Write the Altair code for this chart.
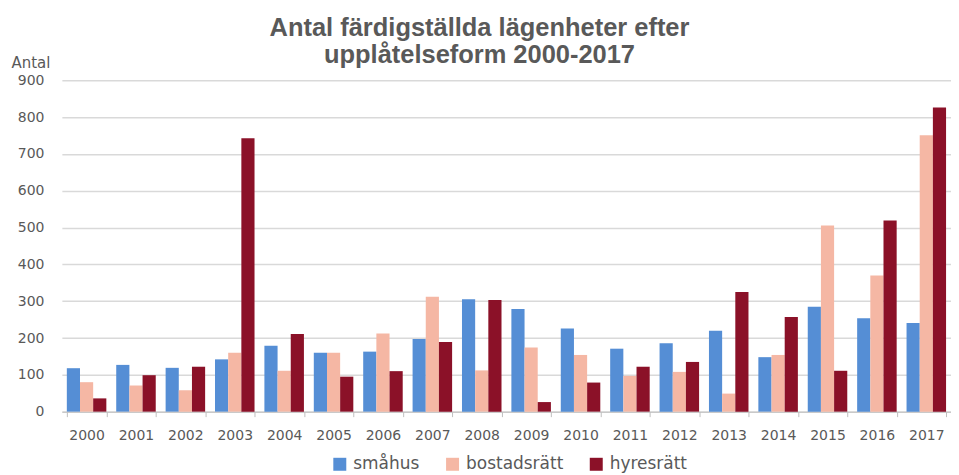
import altair as alt
import pandas as pd

years = ["2000", "2001", "2002", "2003", "2004", "2005", "2006", "2007", "2008",
         "2009", "2010", "2011", "2012", "2013", "2014", "2015", "2016", "2017"]
smahus = [118, 127, 119, 142, 179, 160, 163, 197, 305, 279, 226, 171, 186, 220, 148, 285, 254, 241]
bostadsratt = [80, 71, 58, 160, 111, 160, 212, 312, 112, 174, 154, 97, 108, 49, 154, 506, 370, 751]
hyresratt = [36, 99, 122, 743, 211, 95, 110, 189, 303, 26, 79, 122, 135, 325, 257, 111, 519, 826]

series_names = ["småhus", "bostadsrätt", "hyresrätt"]
series_colors = ["#558ED5", "#F5B7A4", "#8B1128"]
y_ticks = [0, 100, 200, 300, 400, 500, 600, 700, 800, 900]

rows = []
for name, vals in zip(series_names, [smahus, bostadsratt, hyresratt]):
    for yr, v in zip(years, vals):
        rows.append({"År": yr, "Serie": name, "Antal": v})
df = pd.DataFrame(rows)

text_color = "#595959"

chart = alt.Chart(df).mark_bar().encode(
    x=alt.X("År:N", sort=years,
            scale=alt.Scale(paddingInner=0.2, paddingOuter=0.1),
            axis=alt.Axis(title=None, labelAngle=0, labelFont="DejaVu Sans", labelFontSize=14,
                          labelColor=text_color, labelPadding=12, domainColor="#BFBFBF",
                          tickColor="#BFBFBF", tickSize=5, tickBand="extent", grid=False)),
    xOffset=alt.XOffset("Serie:N", sort=series_names, scale=alt.Scale(paddingInner=0, paddingOuter=0)),
    y=alt.Y("Antal:Q", scale=alt.Scale(domain=[0, 900], nice=False),
            axis=alt.Axis(values=y_ticks, title="Antal", titleAngle=0, titleAlign="left",
                          titleBaseline="alphabetic", titleX=-51, titleY=-13,
                          titleFont="DejaVu Sans", titleFontSize=15, titleFontWeight="normal",
                          titleColor=text_color, labelFont="DejaVu Sans", labelFontSize=14,
                          labelColor=text_color, labelPadding=18, domain=False, ticks=False,
                          gridColor="#D9D9D9", gridWidth=1.5)),
    color=alt.Color("Serie:N", sort=series_names,
                    scale=alt.Scale(domain=series_names, range=series_colors),
                    legend=alt.Legend(title=None, orient="none", direction="horizontal",
                                      legendX=270, legendY=376,
                                      symbolType="square", symbolSize=169, symbolStrokeWidth=0,
                                      labelFont="DejaVu Sans", labelFontSize=17, labelColor=text_color,
                                      columnPadding=24, labelOffset=5)),
).properties(
    width=891,
    height=332,
    title=alt.TitleParams(
        text=["Antal färdigställda lägenheter efter", "upplåtelseform 2000-2017"],
        font="Liberation Sans", fontSize=25.5, fontWeight="bold", color=text_color,
        anchor="middle", dx=-27, dy=13, offset=0, lineHeight=27,
    ),
    autosize=alt.AutoSizeParams(type="none"),
    padding={"left": 54, "top": 72, "right": 0, "bottom": 63},
).configure_view(stroke=None)

chart.save("out.html", embed_options={"renderer": "svg", "actions": False})
